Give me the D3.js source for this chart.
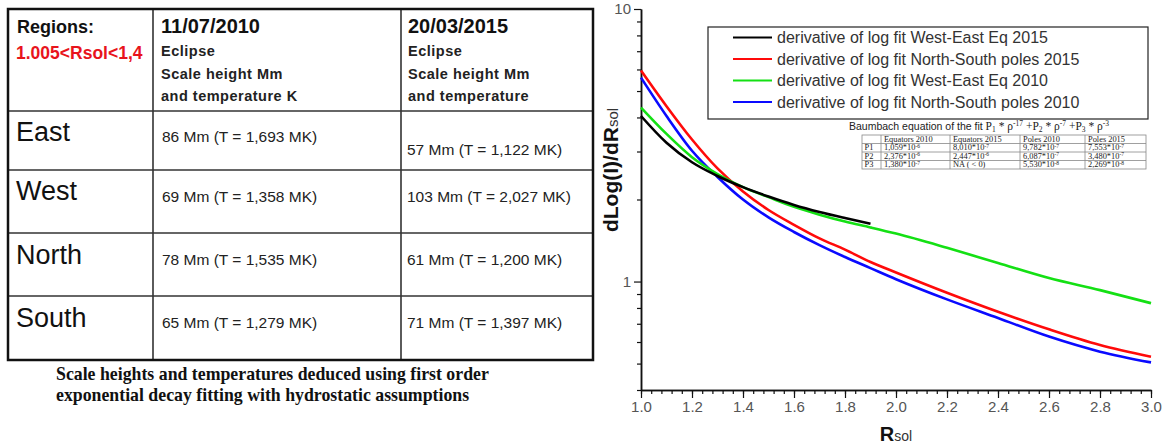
<!DOCTYPE html>
<html lang="en">
<head>
<meta charset="UTF-8">
<title>Scale heights and derivative of log fit</title>
<script src="https://cdnjs.cloudflare.com/ajax/libs/d3/7.8.5/d3.min.js"></script>
<style>
  body { margin: 0; background: #fff; }
  svg { display: block; font-family: "Liberation Sans", Arial, sans-serif; }
</style>
</head>
<body>
<svg id="graph" width="1168" height="445"></svg>
<script>
// ---- left table
var regions = ["East", "West", "North", "South"];
var heights2010 = ["86 Mm (T = 1,693 MK)", "69 Mm (T = 1,358 MK)", "78 Mm (T = 1,535 MK)", "65 Mm (T = 1,279 MK)"];
var heights2015 = ["57 Mm (T = 1,122 MK)", "103 Mm (T = 2,027 MK)", "61 Mm (T = 1,200 MK)", "71 Mm (T = 1,397 MK)"];
var headerDates = ["11/07/2010", "20/03/2015"];
var headerLines = [["Eclipse", "Scale height Mm", "and temperature K"],
                   ["Eclipse", "Scale height Mm", "and temperature"]];
var caption = ["Scale heights and temperatures deduced using first order",
               "exponential decay fitting with hydrostatic assumptions"];

// ---- curves
var rsol      = [1.0, 1.1, 1.2, 1.3, 1.4, 1.5, 1.6, 1.7, 1.8, 1.9, 2.0, 2.2, 2.4, 2.6, 2.8, 3.0];
var eq2015    = [4.05, 3.23, 2.74, 2.44, 2.22, 2.05, 1.91, 1.80, 1.71, 1.63];
var poles2015 = [5.95, 4.40, 3.32, 2.60, 2.14, 1.83, 1.615, 1.44, 1.31, 1.18, 1.08, 0.91, 0.775, 0.668, 0.585, 0.530];
var eq2010    = [4.35, 3.48, 2.86, 2.48, 2.22, 2.04, 1.88, 1.76, 1.66, 1.58, 1.50, 1.33, 1.17, 1.03, 0.93, 0.833];
var poles2010 = [5.60, 4.05, 3.02, 2.42, 2.00, 1.72, 1.52, 1.36, 1.23, 1.12, 1.02, 0.86, 0.735, 0.628, 0.553, 0.505];
var seriesNames = ["derivative of log fit West-East Eq 2015", "derivative of log fit North-South poles 2015",
                   "derivative of log fit West-East Eq 2010", "derivative of log fit North-South poles 2010"];
var seriesColors = ["#000000", "#ff0a0a", "#14e014", "#0a0aff"];

// ---- fit table
var fitCols = ["Equators 2010", "Equators 2015", "Poles 2010", "Poles 2015"];
var fitRows = ["P1", "P2", "P3"];
var fitMant = [["1,059", "8,010", "9,782", "7,553"],
               ["2,376", "2,447", "6,087", "3,480"],
               ["1,380", "NA ( < 0)", "5,530", "2,269"]];
var fitExp  = [["-6", "-7", "-7", "-7"],
               ["-6", "-6", "-7", "-7"],
               ["-7", null, "-8", "-8"]];

var svg = d3.select("#graph");

// ================= table =================
var colX = [8, 153, 401, 593];
var rowY = [9, 111, 170, 233, 296, 360];
var tbl = svg.append("g");

tbl.selectAll(".vline").data(colX.slice(1, -1)).enter().append("line")
   .attr("x1", d => d).attr("x2", d => d).attr("y1", rowY[0]).attr("y2", rowY[5])
   .attr("stroke", "#333").attr("stroke-width", 1.6);
tbl.selectAll(".hline").data(rowY.slice(1, -1)).enter().append("line")
   .attr("x1", colX[0]).attr("x2", colX[3]).attr("y1", d => d).attr("y2", d => d)
   .attr("stroke", "#333").attr("stroke-width", 1.6);
tbl.append("rect").attr("x", colX[0]).attr("y", rowY[0])
   .attr("width", colX[3] - colX[0]).attr("height", rowY[5] - rowY[0])
   .attr("fill", "none").attr("stroke", "#111").attr("stroke-width", 2.5);

tbl.append("text").attr("x", 17).attr("y", 33).attr("font-size", 18).attr("font-weight", "bold")
   .attr("fill", "#111").text("Regions:");
tbl.append("text").attr("x", 16).attr("y", 59).attr("font-size", 17.5).attr("font-weight", "bold")
   .attr("fill", "#e8141c").text("1.005<Rsol<1,4");

headerDates.forEach(function (d, i) {
  var x0 = [161, 408][i];
  tbl.append("text").attr("x", x0).attr("y", 33).attr("font-size", 20).attr("font-weight", "bold")
     .attr("fill", "#111").text(d);
  headerLines[i].forEach(function (t, j) {
    tbl.append("text").attr("x", x0).attr("y", [56, 79, 101][j]).attr("font-size", 14.5)
       .attr("font-weight", "bold").attr("letter-spacing", 0.5).attr("fill", "#222").text(t);
  });
});

var labY = [141, 200, 264, 327];
tbl.selectAll(".reg").data(regions).enter().append("text")
   .attr("x", 16).attr("y", (d, i) => labY[i]).attr("font-size", 27).attr("fill", "#111").text(d => d);
tbl.selectAll(".c2010").data(heights2010).enter().append("text")
   .attr("x", 162).attr("y", (d, i) => [142, 202, 265, 328][i]).attr("font-size", 15.5).attr("fill", "#222").text(d => d);
tbl.selectAll(".c2015").data(heights2015).enter().append("text")
   .attr("x", 407).attr("y", (d, i) => [155, 202, 265, 328][i]).attr("font-size", 15.5).attr("fill", "#222").text(d => d);

svg.selectAll(".cap").data(caption).enter().append("text")
   .attr("x", 56).attr("y", (d, i) => 380 + i * 21)
   .attr("font-family", "'Liberation Serif', 'Times New Roman', serif")
   .attr("font-weight", "bold").attr("font-size", 17.8).attr("fill", "#111").text(d => d);

// ================= chart =================
var x = d3.scaleLinear().domain([1, 3]).range([641, 1151]);
var y = d3.scaleLog().domain([0.4, 10]).range([390, 9]);

var majorY = [1, 10];
var minorY = [0.4, 0.5, 0.6, 0.7, 0.8, 0.9, 2, 3, 4, 5, 6, 7, 8, 9];
var majorX = d3.range(0, 11).map(i => 1 + i * 0.2);
var minorX = d3.range(0, 51).map(i => 1 + i * 0.04);

var gy = svg.append("g").attr("transform", "translate(" + x(1) + ",0)");
gy.call(d3.axisLeft(y).tickValues(minorY).tickSize(4).tickSizeOuter(0).tickFormat(""));
gy.append("g").call(d3.axisLeft(y).tickValues(majorY).tickSize(7).tickSizeOuter(0).tickFormat(d3.format("d")));
var gx = svg.append("g").attr("transform", "translate(0," + y(0.4) + ")");
gx.call(d3.axisBottom(x).tickValues(minorX).tickSize(4).tickSizeOuter(0).tickFormat(""));
gx.append("g").call(d3.axisBottom(x).tickValues(majorX).tickSize(8).tickSizeOuter(0).tickFormat(d3.format(".1f")));

svg.selectAll(".domain").attr("stroke", "#111").attr("stroke-width", 1.5);
svg.selectAll(".tick line").attr("stroke", "#111").attr("stroke-width", 1.2);
svg.selectAll(".tick text").attr("font-family", "'Liberation Sans', Arial, sans-serif")
   .attr("font-size", 15).attr("fill", "#555");

var yl = svg.append("text").attr("transform", "translate(618,170) rotate(-90)")
   .attr("text-anchor", "middle").attr("fill", "#111");
yl.append("tspan").attr("font-size", 21).attr("font-weight", "bold").text("dLog(I)/dR");
yl.append("tspan").attr("font-size", 15).attr("fill", "#333").text("sol");

var xl = svg.append("text").attr("x", x(2)).attr("y", 441).attr("text-anchor", "middle").attr("fill", "#111");
xl.append("tspan").attr("font-size", 20).attr("font-weight", "bold").text("R");
xl.append("tspan").attr("font-size", 14).attr("fill", "#333").text("sol");

var series = [eq2015, poles2015, eq2010, poles2010].map(function (vals, i) {
  return { name: seriesNames[i], color: seriesColors[i],
           pts: vals.map((v, j) => [rsol[j], v]) };
});

var line = d3.line().x(d => x(d[0])).y(d => y(d[1])).curve(d3.curveMonotoneX);
var drawOrder = [3, 1, 2, 0];
svg.append("g").selectAll("path").data(drawOrder.map(i => series[i])).enter().append("path")
   .attr("d", d => line(d.pts)).attr("fill", "none")
   .attr("stroke", d => d.color).attr("stroke-width", 2.6);

// legend
var lg = svg.append("g");
lg.append("rect").attr("x", 708).attr("y", 27).attr("width", 440).attr("height", 92)
  .attr("fill", "#fff").attr("stroke", "#222").attr("stroke-width", 1.2);
var li = lg.selectAll(".li").data(series).enter().append("g")
  .attr("transform", (d, i) => "translate(0," + (37.5 + i * 21.5) + ")");
li.append("line").attr("x1", 733).attr("x2", 772).attr("stroke", d => d.color).attr("stroke-width", 2.2);
li.append("text").attr("x", 777).attr("dy", "0.36em").attr("font-size", 16).attr("fill", "#333").text(d => d.name);

// fit table
var fx = [862, 881, 950, 1020, 1085, 1146];
var fy = [135, 143.5, 152, 160.5, 169];
var ft = svg.append("g");
ft.append("rect").attr("x", fx[0]).attr("y", fy[0]).attr("width", fx[5] - fx[0]).attr("height", fy[4] - fy[0])
  .attr("fill", "#fff").attr("stroke", "#888").attr("stroke-width", 0.8);
ft.selectAll(".fv").data(fx.slice(1, -1)).enter().append("line")
  .attr("x1", d => d).attr("x2", d => d).attr("y1", fy[0]).attr("y2", fy[4]).attr("stroke", "#888").attr("stroke-width", 0.8);
ft.selectAll(".fh").data(fy.slice(1, -1)).enter().append("line")
  .attr("x1", fx[0]).attr("x2", fx[5]).attr("y1", d => d).attr("y2", d => d).attr("stroke", "#888").attr("stroke-width", 0.8);

var serif = "'Liberation Serif', 'Times New Roman', serif";
ft.selectAll(".fc").data(fitCols).enter().append("text")
  .attr("x", (d, i) => fx[i + 1] + 3).attr("y", fy[1] - 2)
  .attr("font-family", serif).attr("font-size", 8.4).attr("fill", "#222").text(d => d);
fitRows.forEach(function (r, ri) {
  var by = fy[ri + 2] - 2;
  ft.append("text").attr("x", fx[0] + 2.5).attr("y", by).attr("font-family", serif)
    .attr("font-size", 8.4).attr("fill", "#222").text(r);
  fitMant[ri].forEach(function (m, ci) {
    var t = ft.append("text").attr("x", fx[ci + 1] + 3).attr("y", by).attr("font-family", serif)
      .attr("font-size", 8.4).attr("fill", "#222");
    if (fitExp[ri][ci] === null) { t.text(m); return; }
    t.append("tspan").text(m + "*10");
    t.append("tspan").attr("dy", -2.5).attr("font-size", 5.5).text(fitExp[ri][ci]);
  });
});

var ttl = ft.append("text").attr("x", 849).attr("y", 130).attr("fill", "#222");
ttl.append("tspan").attr("font-size", 10.5).text("Baumbach equation of the fit  ");
var formula = [["P", "1", " * \u03C1", "-17", " +"], ["P", "2", " * \u03C1", "-7", " +"], ["P", "3", " * \u03C1", "-3", ""]];
formula.forEach(function (f) {
  ttl.append("tspan").attr("font-family", serif).attr("font-size", 11.5).text(f[0]);
  ttl.append("tspan").attr("font-family", serif).attr("font-size", 7.5).attr("dy", 2).text(f[1]);
  ttl.append("tspan").attr("font-family", serif).attr("font-size", 11.5).attr("dy", -2).text(f[2]);
  ttl.append("tspan").attr("font-family", serif).attr("font-size", 7.5).attr("dy", -4).text(f[3]);
  ttl.append("tspan").attr("font-family", serif).attr("font-size", 11.5).attr("dy", 4).text(f[4]);
});
</script>
</body>
</html>
